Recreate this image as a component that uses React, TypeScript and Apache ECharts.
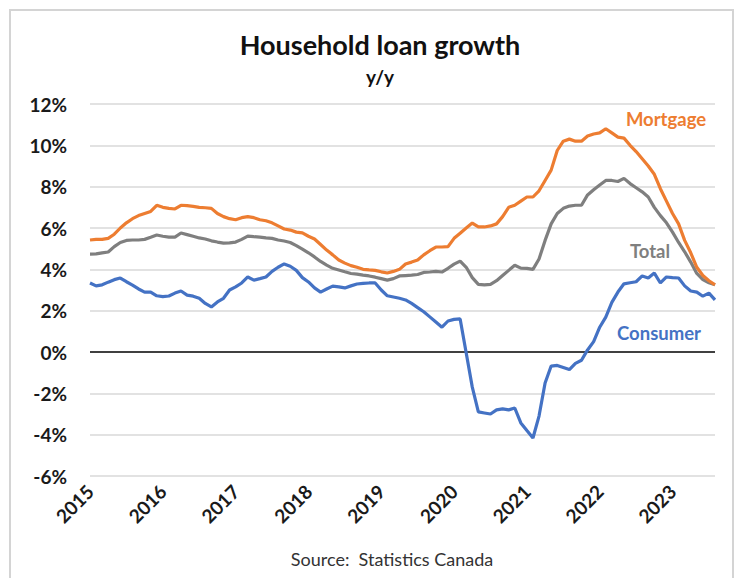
import React, { useEffect, useRef } from "react";
import * as echarts from "echarts";

const years = [2015, 2016, 2017, 2018, 2019, 2020, 2021, 2022, 2023];
const monthsShown = 104; // Jan 2015 .. Aug 2023
const categories: string[] = [];
for (const y of years) {
  for (let m = 1; m <= 12; m++) {
    if (categories.length < monthsShown) categories.push(`${y}-${String(m).padStart(2, "0")}`);
  }
}

const mortgage = [
  5.42, 5.45, 5.45, 5.5, 5.7, 6.0, 6.25, 6.45, 6.6, 6.7, 6.8, 7.1,
  7.0, 6.95, 6.92, 7.1, 7.08, 7.05, 7.0, 6.98, 6.95, 6.7, 6.55, 6.45,
  6.4, 6.5, 6.55, 6.5, 6.4, 6.35, 6.25, 6.1, 5.95, 5.9, 5.8, 5.76,
  5.6, 5.47, 5.2, 4.93, 4.7, 4.45, 4.3, 4.18, 4.1, 4.0, 3.97, 3.95,
  3.88, 3.82, 3.9, 4.0, 4.26, 4.35, 4.45, 4.7, 4.9, 5.08, 5.08, 5.1,
  5.5, 5.75, 6.0, 6.24, 6.05, 6.05, 6.1, 6.2, 6.55, 7.0, 7.1, 7.3,
  7.5, 7.5, 7.8, 8.3, 8.8, 9.75, 10.2, 10.3, 10.2, 10.2, 10.45, 10.55,
  10.6, 10.8, 10.6, 10.4, 10.35, 10.0, 9.7, 9.35, 9.0, 8.6, 7.9, 7.3,
  6.7, 6.2, 5.4, 4.8, 4.1, 3.7, 3.45, 3.25,
];

const total = [
  4.74, 4.75, 4.8, 4.84, 5.1, 5.3, 5.4, 5.42, 5.42, 5.45, 5.55, 5.66,
  5.6, 5.56, 5.56, 5.76, 5.68, 5.6, 5.52, 5.47, 5.38, 5.32, 5.27, 5.28,
  5.32, 5.45, 5.61, 5.58, 5.56, 5.52, 5.5, 5.42, 5.37, 5.3, 5.15, 4.98,
  4.8, 4.6, 4.38, 4.2, 4.05, 3.97, 3.88, 3.8, 3.77, 3.72, 3.68, 3.62,
  3.55, 3.48, 3.55, 3.68, 3.7, 3.72, 3.75, 3.85, 3.87, 3.9, 3.87, 4.05,
  4.25, 4.4, 4.1, 3.6, 3.27, 3.25, 3.27, 3.45, 3.7, 3.95, 4.2, 4.06,
  4.05, 4.0, 4.5, 5.4, 6.2, 6.7, 6.95, 7.06, 7.1, 7.1, 7.6, 7.85,
  8.08, 8.3, 8.3, 8.25, 8.4, 8.15, 7.95, 7.75, 7.5, 7.0, 6.6, 6.25,
  5.8, 5.3, 4.85, 4.35, 3.8, 3.5, 3.35, 3.25,
];

const consumer = [
  3.34, 3.2, 3.25, 3.38, 3.5, 3.58, 3.4, 3.24, 3.05, 2.9, 2.9, 2.72,
  2.68, 2.71, 2.85, 2.95, 2.75, 2.7, 2.6, 2.35, 2.18, 2.42, 2.6, 3.0,
  3.15, 3.34, 3.63, 3.48, 3.55, 3.63, 3.9, 4.1, 4.26, 4.15, 3.95, 3.6,
  3.39, 3.1, 2.9, 3.05, 3.19, 3.15, 3.1, 3.2, 3.29, 3.32, 3.34, 3.34,
  3.0, 2.72, 2.66, 2.6, 2.52, 2.35, 2.15, 1.95, 1.7, 1.45, 1.2, 1.5,
  1.58, 1.6, -0.05, -1.7, -2.9, -2.95, -3.0, -2.8, -2.75, -2.8, -2.71, -3.43,
  -3.8, -4.16, -3.1, -1.5, -0.68, -0.65, -0.75, -0.85, -0.55, -0.4, 0.1, 0.5,
  1.2, 1.69, 2.4, 2.9, 3.3, 3.35, 3.4, 3.68, 3.58, 3.82, 3.34, 3.63,
  3.6, 3.58, 3.2, 2.95, 2.9, 2.7, 2.85, 2.52,
];

const yTicks = { min: -6, max: 12, interval: 2 };

const FONT = "Lato, 'Open Sans', sans-serif";
const ORANGE = "#ED7D31";
const GRAY = "#7F7F7F";
const BLUE = "#4472C4";

export default function App() {
  const ref = useRef<HTMLDivElement>(null);
  useEffect(() => {
    if (!ref.current) return;
    const chart = echarts.init(ref.current, undefined, { renderer: "svg" });
    const lineSeries = (name: string, data: number[], color: string, extra: any = {}) => ({
      name,
      type: "line",
      data,
      symbol: "none",
      smooth: false,
      lineStyle: { color, width: 3.2 },
      itemStyle: { color },
      z: 3,
      ...extra,
    });
    chart.setOption({
      animation: false,
      backgroundColor: "#ffffff",
      textStyle: { fontFamily: FONT },
      grid: { left: 90, right: 24, top: 104, bottom: 102, containLabel: false },
      xAxis: {
        type: "category",
        data: categories,
        boundaryGap: false,
        axisLine: { show: false },
        axisTick: { show: false },
        splitLine: { show: false },
        axisLabel: {
          interval: 11,
          rotate: 45,
          margin: 12,
          fontFamily: FONT,
          fontWeight: "bold",
          fontSize: 19,
          color: "#1a1a1a",
          formatter: (v: string) => v.slice(0, 4),
        },
      },
      yAxis: {
        type: "value",
        min: yTicks.min,
        max: yTicks.max,
        interval: yTicks.interval,
        axisLine: { show: false },
        axisTick: { show: false },
        splitLine: { lineStyle: { color: "#d9d9d9", width: 1.5 } },
        axisLabel: {
          margin: 23,
          fontFamily: FONT,
          fontWeight: "bold",
          fontSize: 19,
          color: "#1a1a1a",
          formatter: (v: number) => `${v}%`,
        },
      },
      series: [
        lineSeries("Consumer", consumer, BLUE, {
          markLine: {
            silent: true,
            symbol: "none",
            label: { show: false },
            lineStyle: { color: "#404040", width: 2, type: "solid" },
            data: [{ yAxis: 0 }],
            z: 2,
          },
        }),
        lineSeries("Total", total, GRAY),
        lineSeries("Mortgage", mortgage, ORANGE),
      ],
      graphic: [
        {
          type: "rect",
          shape: { x: 10, y: 10, width: 723, height: 590 },
          style: { fill: "none", stroke: "#d4d4d4", lineWidth: 2 },
          silent: true,
        },
        {
          type: "text",
          x: 380,
          y: 44,
          style: {
            text: "Household loan growth",
            fontFamily: FONT,
            fontWeight: "bold",
            fontSize: 27,
            fill: "#111111",
            align: "center",
            verticalAlign: "middle",
          },
        },
        {
          type: "text",
          x: 380,
          y: 76,
          style: {
            text: "y/y",
            fontFamily: FONT,
            fontWeight: "bold",
            fontSize: 19,
            fill: "#111111",
            align: "center",
            verticalAlign: "middle",
          },
        },
        {
          type: "text",
          x: 666,
          y: 119,
          style: { text: "Mortgage", fontFamily: FONT, fontWeight: "bold", fontSize: 18.5, fill: ORANGE, align: "center", verticalAlign: "middle" },
        },
        {
          type: "text",
          x: 650,
          y: 251,
          style: { text: "Total", fontFamily: FONT, fontWeight: "bold", fontSize: 18.5, fill: GRAY, align: "center", verticalAlign: "middle" },
        },
        {
          type: "text",
          x: 659,
          y: 333,
          style: { text: "Consumer", fontFamily: FONT, fontWeight: "bold", fontSize: 18.5, fill: BLUE, align: "center", verticalAlign: "middle" },
        },
        {
          type: "text",
          x: 392,
          y: 559,
          style: { text: "Source:  Statistics Canada", fontFamily: FONT, fontSize: 18, fill: "#333333", align: "center", verticalAlign: "middle" },
        },
      ],
    });
    return () => chart.dispose();
  }, []);
  return (
    <div
      ref={ref}
      style={{ position: "fixed", left: 0, top: 0, width: 739, height: 578 }}
    />
  );
}
